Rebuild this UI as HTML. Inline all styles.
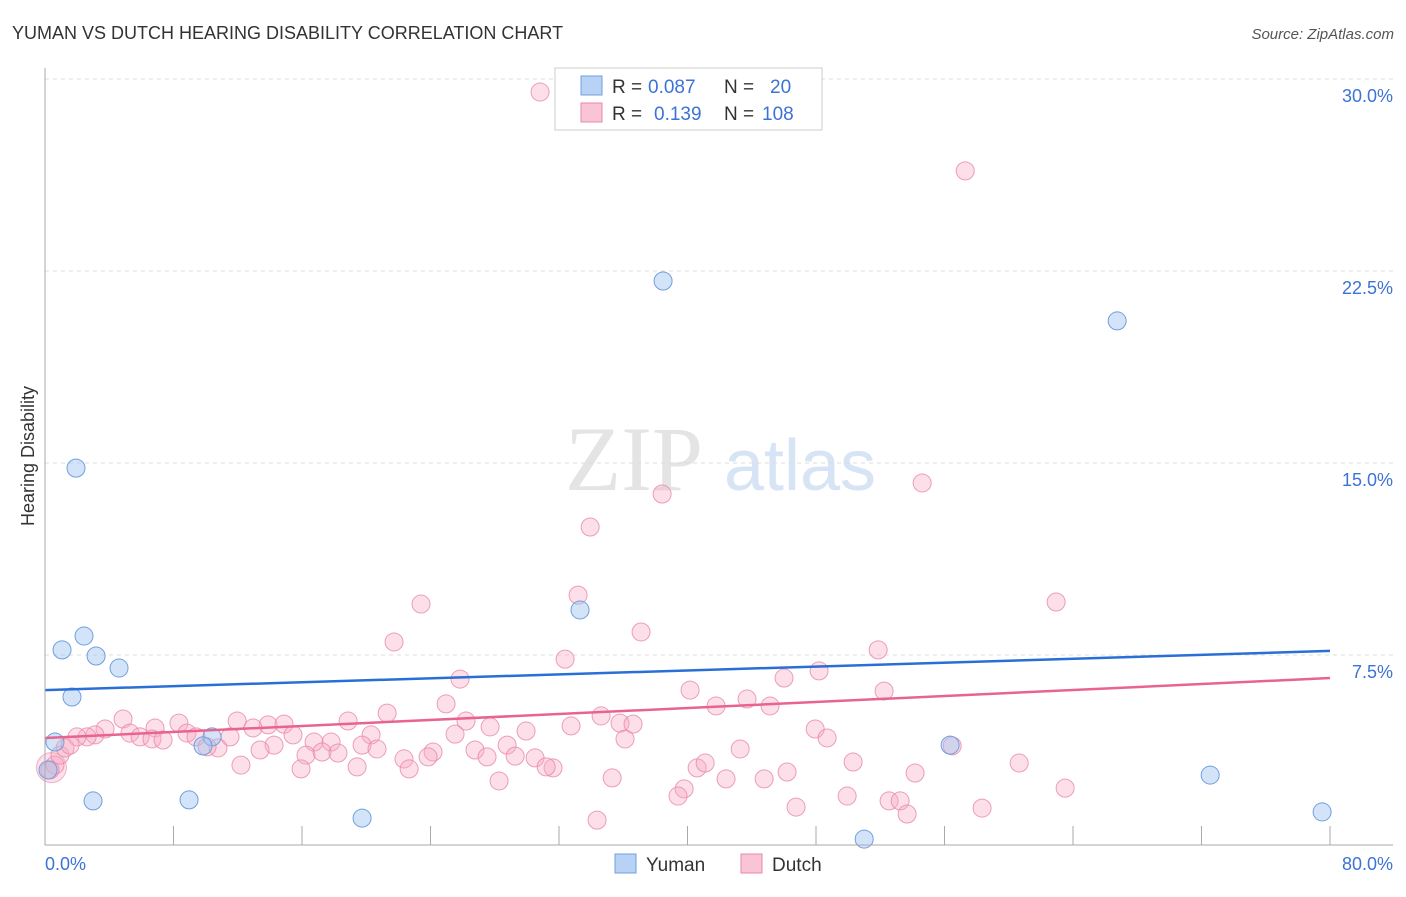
<!DOCTYPE html>
<html><head><meta charset="utf-8"><style>
body{margin:0;background:#fff;font-family:"Liberation Sans",sans-serif}
</style></head><body>
<svg id="c" width="1406" height="892" xmlns="http://www.w3.org/2000/svg" style="font-family:'Liberation Sans',sans-serif">
<text x="12" y="39" font-size="18" fill="#333">YUMAN VS DUTCH HEARING DISABILITY CORRELATION CHART</text>
<text x="1394" y="39" font-size="15" fill="#555" text-anchor="end" font-style="italic">Source: ZipAtlas.com</text>
<text x="634" y="490" font-size="92" fill="#e4e4e4" font-family="Liberation Serif,serif" text-anchor="middle">ZIP</text>
<text x="800" y="490" font-size="72" fill="#d6e4f5" text-anchor="middle">atlas</text>
<text transform="translate(34,456) rotate(-90)" font-size="18" fill="#333" text-anchor="middle">Hearing Disability</text>
<g id="grid"></g><g id="pts"></g><g id="lines"></g>
<line x1="45" y1="68" x2="45" y2="845" stroke="#aaa"/>
<line x1="45" y1="845" x2="1393" y2="845" stroke="#aaa"/>
<text x="45" y="870" font-size="18" fill="#3b73d6">0.0%</text>
<text x="1393" y="870" font-size="18" fill="#3b73d6" text-anchor="end">80.0%</text>
<rect x="555" y="68" width="267" height="62" fill="#fff" stroke="#ccc"/>
<rect x="581" y="76" width="21" height="19" fill="#b8d2f5" stroke="#6f9fe0"/>
<rect x="581" y="103" width="21" height="19" fill="#f9c4d4" stroke="#e888a8"/>
<g font-size="19" fill="#333">
<text x="612" y="93">R =</text><text x="648" y="93" fill="#3b73d6">0.087</text><text x="724" y="93">N =</text><text x="770" y="93" fill="#3b73d6">20</text>
</g>
<g font-size="19" fill="#333">
<text x="612" y="120">R =</text><text x="654" y="120" fill="#3b73d6">0.139</text><text x="724" y="120">N =</text><text x="762" y="120" fill="#3b73d6">108</text>
</g>
<rect x="615" y="854" width="21" height="19" fill="#b8d2f5" stroke="#6f9fe0"/>
<text x="646" y="871" font-size="19" fill="#333">Yuman</text>
<rect x="741" y="854" width="21" height="19" fill="#f9c4d4" stroke="#e888a8"/>
<text x="772" y="871" font-size="19" fill="#333">Dutch</text>
</svg>
<script>
const yTicks=[7.5,15,22.5,30];
const yTickLabels=["7.5%","15.0%","22.5%","30.0%"];
const xTicks=[0,8,16,24,32,40,48,56,64,72,80];
const yumanX=[1.93,38.48,66.75,2.43,1.06,3.18,4.61,1.68,33.31,0.62,10.40,9.84,56.35,0.19,2.99,8.97,19.74,51.00,72.54,79.51];
const yumanY=[14.80,22.11,20.55,8.24,7.70,7.46,6.99,5.86,9.26,4.10,4.30,3.95,3.98,3.01,1.80,1.84,1.13,0.31,2.81,1.37];
const dutchX=[30.82,57.29,38.42,54.61,33.94,33.19,23.41,62.95,37.11,21.73,32.38,51.87,48.19,25.84,46.01,40.16,52.24,24.97,43.71,41.78,45.14,21.30,34.62,4.86,11.96,8.34,13.89,14.88,18.87,26.21,27.71,32.75,35.80,36.61,47.95,3.74,6.85,12.95,5.29,8.84,29.95,48.69,3.11,2.62,1.99,5.92,6.66,7.35,9.40,11.52,15.44,20.30,25.53,36.11,16.75,17.81,19.74,10.77,10.09,14.26,13.39,20.67,24.16,26.77,28.77,43.28,56.48,16.25,17.25,18.24,22.35,23.85,27.52,29.27,30.51,31.63,31.20,50.31,60.65,12.20,19.43,15.94,22.67,40.60,41.10,46.20,54.17,35.31,42.40,44.77,28.27,39.79,39.41,49.94,63.51,46.76,52.55,53.24,53.67,58.34,34.37,0.62,0.93,1.25,0.31,1.56];
const dutchY=[29.49,26.41,13.79,14.22,12.50,9.84,9.49,9.57,8.40,8.01,7.34,7.70,6.88,6.56,6.60,6.13,6.09,5.59,5.78,5.51,5.51,5.23,5.12,5.00,4.92,4.84,4.77,4.80,4.92,4.92,4.69,4.73,4.84,4.80,4.61,4.61,4.65,4.65,4.45,4.45,4.53,4.26,4.38,4.30,4.30,4.30,4.22,4.18,4.30,4.30,4.38,4.38,4.41,4.22,4.10,4.10,3.98,3.87,3.91,3.98,3.79,3.83,3.71,3.79,3.98,3.83,3.95,3.59,3.71,3.67,3.44,3.52,3.52,3.55,3.48,3.09,3.13,3.32,3.28,3.20,3.13,3.05,3.05,3.09,3.28,2.93,2.89,2.70,2.66,2.66,2.58,2.27,1.99,1.99,2.30,1.56,1.80,1.80,1.29,1.52,1.05,3.20,3.59,3.87,3.01,3.98];
const yumanTrend=[6.13,7.66];
const dutchTrend=[4.26,6.60];
const NS="http://www.w3.org/2000/svg";
const sx=v=>45+v/80*1285;
const sy=v=>847-v/7.5*192;
function mk(tag,attrs,parent){const e=document.createElementNS(NS,tag);for(const k in attrs)e.setAttribute(k,attrs[k]);document.getElementById(parent).appendChild(e);return e;}
yTicks.forEach((t,i)=>{
  const l=mk('line',{x1:45,x2:1393,y1:sy(t),y2:sy(t),stroke:'#ddd','stroke-dasharray':'4,4'},'grid');
  
  
  const tx=mk('text',{x:1393,y:sy(t)+23,'font-size':18,fill:'#3b73d6','text-anchor':'end'},'grid');
  tx.textContent=yTickLabels[i];
  
  
});
xTicks.forEach(t=>{
  const l=mk('line',{x1:sx(t),x2:sx(t),y1:826,y2:845,stroke:'#aaa'},'grid');
  
  
});
const big=mk('circle',{cx:sx(0.4),cy:sy(3.1),r:15,fill:'rgba(246,170,195,0.35)',stroke:'#e888a8','stroke-opacity':0.6},'pts');


dutchX.forEach((x,i)=>{
  const c=mk('circle',{cx:sx(x),cy:sy(dutchY[i]),r:9,fill:'rgba(246,170,195,0.38)',stroke:'#e888a8','stroke-opacity':0.8},'pts');
  
  
});
yumanX.forEach((x,i)=>{
  const c=mk('circle',{cx:sx(x),cy:sy(yumanY[i]),r:9,fill:'rgba(160,196,240,0.45)',stroke:'#6f9fe0'},'pts');
  
  
});
const l1=mk('line',{x1:sx(0),x2:sx(80),y1:sy(yumanTrend[0]),y2:sy(yumanTrend[1]),stroke:'#2a6fd6','stroke-width':2.5},'lines');


const l2=mk('line',{x1:sx(0),x2:sx(80),y1:sy(dutchTrend[0]),y2:sy(dutchTrend[1]),stroke:'#e8648f','stroke-width':2.5},'lines');


</script>
</body></html>
